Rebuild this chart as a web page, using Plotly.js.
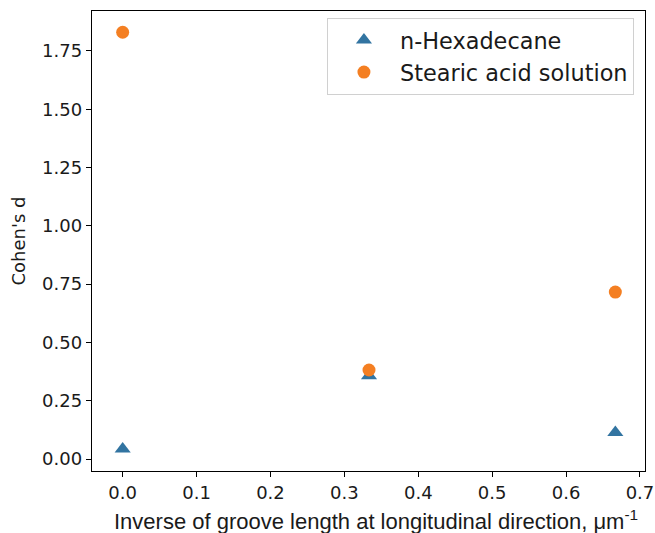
<!DOCTYPE html>
<html>
<head>
<meta charset="utf-8">
<script src="https://cdn.plot.ly/plotly-3.0.1.min.js"></script>
<style>html,body{margin:0;padding:0;background:#fff;}</style>
</head>
<body>
<div id="chart" style="width:655px;height:533px;"></div>
<script>
const inverseLength = [0.0, 1/3, 2/3];
const hexadecane = [0.043, 0.357, 0.114];
const stearic = [1.830, 0.382, 0.716];
const seriesNames = ["n-Hexadecane", "Stearic acid solution"];
const xTicks = [0, 0.1, 0.2, 0.3, 0.4, 0.5, 0.6, 0.7];
const xTickText = ["0.0", "0.1", "0.2", "0.3", "0.4", "0.5", "0.6", "0.7"];
const yTicks = [0, 0.25, 0.5, 0.75, 1.0, 1.25, 1.5, 1.75];
const yTickText = ["0.00", "0.25", "0.50", "0.75", "1.00", "1.25", "1.50", "1.75"];
const xTitle = "Inverse of groove length at longitudinal direction, μm<sup>-1</sup>";
const yTitle = "Cohen's d";

const traces = [
  {x: inverseLength, y: hexadecane, name: seriesNames[0], type: "scatter", mode: "markers",
   marker: {symbol: "triangle-up", size: 14, color: "#3274a1"}},
  {x: inverseLength, y: stearic, name: seriesNames[1], type: "scatter", mode: "markers",
   marker: {symbol: "circle", size: 13, color: "#f47f22"}}
];

const tickFont = {family: "DejaVu Sans", size: 18, color: "#1a1a1a"};
const layout = {
  width: 655, height: 533,
  margin: {l: 92, r: 10, t: 11, b: 62},
  paper_bgcolor: "#fff", plot_bgcolor: "#fff",
  showlegend: true,
  xaxis: {
    range: [-0.0415, 0.7068], tickvals: xTicks, ticktext: xTickText,
    showgrid: false, zeroline: false, showline: true, mirror: true,
    linecolor: "#000", linewidth: 1.2, ticks: "outside", ticklen: 5, tickcolor: "#000",
    tickfont: tickFont
  },
  yaxis: {
    range: [-0.051, 1.921], tickvals: yTicks, ticktext: yTickText,
    showgrid: false, zeroline: false, showline: true, mirror: true,
    linecolor: "#000", linewidth: 1.2, ticks: "outside", ticklen: 5, tickcolor: "#000",
    tickfont: tickFont,
    title: {text: yTitle, font: {family: "DejaVu Sans", size: 18, color: "#1a1a1a"}, standoff: 11}
  },
  annotations: [{
    text: xTitle, xref: "paper", yref: "paper", x: 0.5136, y: -0.0725,
    xanchor: "center", yanchor: "top", showarrow: false,
    font: {family: "Liberation Sans, Arial", size: 22, color: "#1a1a1a"}
  }],
  legend: {
    x: 0.98, y: 0.985, xanchor: "right", yanchor: "top",
    bgcolor: "#fff", bordercolor: "#d0d0d0", borderwidth: 1,
    font: {family: "DejaVu Sans", size: 22.4, color: "#1a1a1a"},
    itemwidth: 62
  }
};

Plotly.newPlot("chart", traces, layout, {displayModeBar: false, staticPlot: true});
</script>
</body>
</html>
